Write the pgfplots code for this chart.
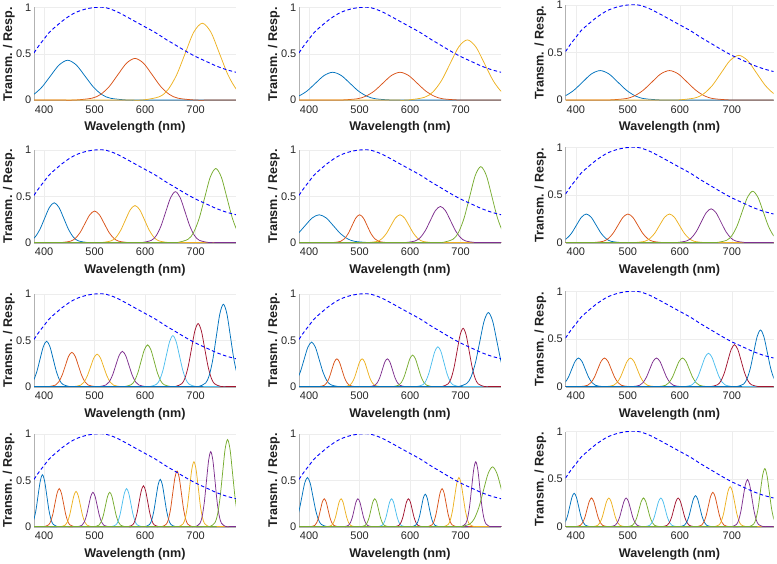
\documentclass[border=0pt]{standalone}
\usepackage{fontspec}
\setmainfont{Liberation Sans}
\usepackage{pgfplots}
\usepackage{pgfplotstable}
\pgfplotsset{compat=1.18}
\definecolor{c1}{rgb}{0,0.447,0.741}
\definecolor{c2}{rgb}{0.850,0.325,0.098}
\definecolor{c3}{rgb}{0.929,0.694,0.125}
\definecolor{c4}{rgb}{0.494,0.184,0.556}
\definecolor{c5}{rgb}{0.466,0.674,0.188}
\definecolor{c6}{rgb}{0.301,0.745,0.933}
\definecolor{c7}{rgb}{0.635,0.078,0.184}
\pgfplotstableread{
x y
380 0.51
390 0.59
400 0.66
410 0.73
420 0.78
440 0.87
460 0.94
480 0.98
500 1.00
520 1.00
540 0.965
560 0.91
580 0.85
600 0.79
620 0.73
640 0.66
660 0.595
680 0.53
700 0.47
720 0.42
740 0.37
760 0.33
780 0.30
}\qetable
\pgfplotsset{
 panel/.style={
  scale only axis, width=202pt, height=93pt, anchor=south west,
  xmin=380, xmax=780, ymin=-0.005, ymax=1,
  xtick={400,500,600,700}, xticklabels={400,500,600,700},
  ytick={0,0.5,1}, yticklabels={0,0.5,1},
  grid=major, major grid style={draw=black!7, line width=0.4pt},
  axis lines*=left, axis line style={-, draw=black!30, line width=0.5pt},
  tick style={draw=none},
  tick label style={font=\fontsize{11}{12}\selectfont, text=black!85},
  xticklabel style={anchor=north, inner sep=0pt, yshift=-5pt},
  yticklabel style={anchor=east, inner sep=0pt, xshift=-2.5pt},
  xlabel={Wavelength (nm)}, ylabel={Transm. / Resp.},
  label style={font=\fontsize{12.6}{14}\selectfont\bfseries, text=black!88},
  xlabel style={at={([yshift=-30.5pt]axis description cs:0.5,0)}, anchor=base},
  ylabel style={at={([xshift=-22pt]axis description cs:0,0.5)}, anchor=base},
  every axis plot/.append style={line width=0.75pt, smooth},
 },
 col3/.style={width=208pt, height=95.5pt},
 qe/.style={blue, dash pattern=on 3.5pt off 2.5pt, line width=0.9pt},
}
\begin{document}
\begin{tikzpicture}
%% ROW 1
\begin{axis}[panel, at={(34pt,462.5pt)}]
\addplot[c1] coordinates {(293.7,0)(327.7,0)(361.7,.019)(378.7,.058)(395.7,.140)(412.7,.261)(429.7,.379)(446.7,.43)(463.7,.379)(480.7,.261)(497.7,.140)(514.7,.058)(531.7,.019)(565.7,0)(599.7,0)(780,0)};
\addplot[c2] coordinates {(380,0)(427,0)(461,0)(495,.020)(512,.061)(529,.146)(546,.273)(563,.397)(580,.45)(597,.397)(614,.273)(631,.146)(648,.061)(665,.020)(699,0)(733,0)(780,0)};
\addplot[c3] coordinates {(380,0)(560.3,0)(594.3,0)(628.3,.036)(645.3,.112)(662.3,.270)(679.3,.503)(696.3,.733)(713.3,.83)(730.3,.733)(747.3,.503)(764.3,.270)(781.3,.112)(798.3,.036)(832.3,0)(866.3,0)};
\addplot[qe] table {\qetable};
\end{axis}
\begin{axis}[panel, at={(299pt,462.5pt)}]
\addplot[c1] coordinates {(293.7,0)(327.7,0)(361.7,.013)(378.7,.041)(395.7,.097)(412.7,.182)(429.7,.265)(446.7,.30)(463.7,.265)(480.7,.182)(497.7,.097)(514.7,.041)(531.7,.013)(565.7,0)(599.7,0)(780,0)};
\addplot[c2] coordinates {(380,0)(427,0)(461,0)(495,.013)(512,.041)(529,.097)(546,.182)(563,.265)(580,.30)(597,.265)(614,.182)(631,.097)(648,.041)(665,.013)(699,0)(733,0)(780,0)};
\addplot[c3] coordinates {(380,0)(560.3,0)(594.3,0)(628.3,.029)(645.3,.088)(662.3,.211)(679.3,.394)(696.3,.574)(713.3,.65)(730.3,.574)(747.3,.394)(764.3,.211)(781.3,.088)(798.3,.029)(832.3,0)(866.3,0)};
\addplot[qe] table {\qetable};
\end{axis}
\begin{axis}[panel, col3, at={(565.5pt,462.5pt)}]
\addplot[c1] coordinates {(293.7,0)(327.7,0)(361.7,.014)(378.7,.042)(395.7,.101)(412.7,.188)(429.7,.274)(446.7,.31)(463.7,.274)(480.7,.188)(497.7,.101)(514.7,.042)(531.7,.014)(565.7,0)(599.7,0)(780,0)};
\addplot[c2] coordinates {(380,0)(427,0)(461,0)(495,.014)(512,.042)(529,.101)(546,.188)(563,.274)(580,.31)(597,.274)(614,.188)(631,.101)(648,.042)(665,.014)(699,0)(733,0)(780,0)};
\addplot[c3] coordinates {(380,0)(560.3,0)(594.3,0)(628.3,.021)(645.3,.064)(662.3,.153)(679.3,.285)(696.3,.415)(713.3,.47)(730.3,.415)(747.3,.285)(764.3,.153)(781.3,.064)(798.3,.021)(832.3,0)(866.3,0)};
\addplot[qe] table {\qetable};
\end{axis}
%% ROW 2
\begin{axis}[panel, at={(34pt,320pt)}]
\addplot[c1] coordinates {(334.5,0)(353.5,0)(372.5,.019)(382,.058)(391.5,.140)(401,.261)(410.5,.379)(420,.43)(429.5,.379)(439,.261)(448.5,.140)(458,.058)(467.5,.019)(486.5,0)(505.5,0)(780,0)};
\addplot[c2] coordinates {(380,0)(414.5,0)(433.5,0)(452.5,.015)(462,.046)(471.5,.110)(481,.206)(490.5,.300)(500,.34)(509.5,.300)(519,.206)(528.5,.110)(538,.046)(547.5,.015)(566.5,0)(585.5,0)(780,0)};
\addplot[c3] coordinates {(380,0)(494.5,0)(513.5,0)(532.5,.018)(542,.054)(551.5,.130)(561,.243)(570.5,.353)(580,.40)(589.5,.353)(599,.243)(608.5,.130)(618,.054)(627.5,.018)(646.5,0)(665.5,0)(780,0)};
\addplot[c4] coordinates {(380,0)(574.5,0)(593.5,0)(612.5,.024)(622,.074)(631.5,.179)(641,.334)(650.5,.485)(660,.55)(669.5,.485)(679,.334)(688.5,.179)(698,.074)(707.5,.024)(726.5,0)(745.5,0)(780,0)};
\addplot[c5] coordinates {(380,0)(641,0)(663,0)(685,.035)(696,.108)(707,.260)(718,.485)(729,.706)(740,.80)(751,.706)(762,.485)(773,.260)(784,.108)(795,.035)(817,0)(839,0)};
\addplot[qe] table {\qetable};
\end{axis}
\begin{axis}[panel, at={(299pt,320pt)}]
\addplot[c1] coordinates {(294,0)(322,0)(350,.013)(364,.041)(378,.097)(392,.182)(406,.265)(420,.30)(434,.265)(448,.182)(462,.097)(476,.041)(490,.013)(518,0)(546,0)(780,0)};
\addplot[c2] coordinates {(380,0)(432.5,0)(447.5,0)(462.5,.013)(470,.041)(477.5,.097)(485,.182)(492.5,.265)(500,.30)(507.5,.265)(515,.182)(522.5,.097)(530,.041)(537.5,.013)(552.5,0)(567.5,0)(780,0)};
\addplot[c3] coordinates {(380,0)(499,0)(517,0)(535,.013)(544,.041)(553,.097)(562,.182)(571,.265)(580,.30)(589,.265)(598,.182)(607,.097)(616,.041)(625,.013)(643,0)(661,0)(780,0)};
\addplot[c4] coordinates {(380,0)(570,0)(590,0)(610,.017)(620,.053)(630,.127)(640,.237)(650,.344)(660,.39)(670,.344)(680,.237)(690,.127)(700,.053)(710,.017)(730,0)(750,0)(780,0)};
\addplot[c5] coordinates {(380,0)(641,0)(663,0)(685,.036)(696,.111)(707,.266)(718,.497)(729,.724)(740,.82)(751,.724)(762,.497)(773,.266)(784,.111)(795,.036)(817,0)(839,0)};
\addplot[qe] table {\qetable};
\end{axis}
\begin{axis}[panel, col3, at={(565.5pt,320pt)}]
\addplot[c1] coordinates {(334.5,0)(353.5,0)(372.5,.013)(382,.041)(391.5,.097)(401,.182)(410.5,.265)(420,.30)(429.5,.265)(439,.182)(448.5,.097)(458,.041)(467.5,.013)(486.5,0)(505.5,0)(780,0)};
\addplot[c2] coordinates {(380,0)(414.5,0)(433.5,0)(452.5,.013)(462,.041)(471.5,.097)(481,.182)(490.5,.265)(500,.30)(509.5,.265)(519,.182)(528.5,.097)(538,.041)(547.5,.013)(566.5,0)(585.5,0)(780,0)};
\addplot[c3] coordinates {(380,0)(494.5,0)(513.5,0)(532.5,.013)(542,.041)(551.5,.097)(561,.182)(570.5,.265)(580,.30)(589.5,.265)(599,.182)(608.5,.097)(618,.041)(627.5,.013)(646.5,0)(665.5,0)(780,0)};
\addplot[c4] coordinates {(380,0)(574.5,0)(593.5,0)(612.5,.016)(622,.048)(631.5,.115)(641,.215)(650.5,.313)(660,.355)(669.5,.313)(679,.215)(688.5,.115)(698,.048)(707.5,.016)(726.5,0)(745.5,0)(780,0)};
\addplot[c5] coordinates {(380,0)(650,0)(670,0)(690,.024)(700,.073)(710,.175)(720,.328)(730,.477)(740,.54)(750,.477)(760,.328)(770,.175)(780,.073)(790,.024)(810,0)(830,0)};
\addplot[qe] table {\qetable};
\end{axis}
%% ROW 3
\begin{axis}[panel, at={(34pt,176pt)}]
\addplot[c1] coordinates {(346.5,0)(359.5,0)(372.5,.022)(379,.066)(385.5,.159)(392,.297)(398.5,.432)(405,.49)(411.5,.432)(418,.297)(424.5,.159)(431,.066)(437.5,.022)(450.5,0)(463.5,0)(780,0)};
\addplot[c2] coordinates {(380,0)(396.5,0)(409.5,0)(422.5,.016)(429,.050)(435.5,.120)(442,.224)(448.5,.327)(455,.37)(461.5,.327)(468,.224)(474.5,.120)(481,.050)(487.5,.016)(500.5,0)(513.5,0)(780,0)};
\addplot[c3] coordinates {(380,0)(446.5,0)(459.5,0)(472.5,.015)(479,.047)(485.5,.114)(492,.212)(498.5,.309)(505,.35)(511.5,.309)(518,.212)(524.5,.114)(531,.047)(537.5,.015)(550.5,0)(563.5,0)(780,0)};
\addplot[c4] coordinates {(380,0)(496.5,0)(509.5,0)(522.5,.017)(529,.051)(535.5,.123)(542,.230)(548.5,.335)(555,.38)(561.5,.335)(568,.230)(574.5,.123)(581,.051)(587.5,.017)(600.5,0)(613.5,0)(780,0)};
\addplot[c5] coordinates {(380,0)(546.5,0)(559.5,0)(572.5,.020)(579,.061)(585.5,.146)(592,.273)(598.5,.397)(605,.45)(611.5,.397)(618,.273)(624.5,.146)(631,.061)(637.5,.020)(650.5,0)(663.5,0)(780,0)};
\addplot[c6] coordinates {(380,0)(596.5,0)(609.5,0)(622.5,.024)(629,.074)(635.5,.179)(642,.334)(648.5,.485)(655,.55)(661.5,.485)(668,.334)(674.5,.179)(681,.074)(687.5,.024)(700.5,0)(713.5,0)(780,0)};
\addplot[c7] coordinates {(380,0)(646.5,0)(659.5,0)(672.5,.030)(679,.092)(685.5,.221)(692,.412)(698.5,.600)(705,.68)(711.5,.600)(718,.412)(724.5,.221)(731,.092)(737.5,.030)(750.5,0)(763.5,0)(780,0)};
\addplot[c1] coordinates {(380,0)(692,0)(706,0)(720,.039)(727,.120)(734,.289)(741,.540)(748,.785)(755,.89)(762,.785)(769,.540)(776,.289)(783,.120)(790,.039)(804,0)(818,0)};
\addplot[qe] table {\qetable};
\end{axis}
\begin{axis}[panel, at={(299pt,176pt)}]
\addplot[c1] coordinates {(337.5,0)(352.5,0)(367.5,.021)(375,.065)(382.5,.156)(390,.291)(397.5,.424)(405,.48)(412.5,.424)(420,.291)(427.5,.156)(435,.065)(442.5,.021)(457.5,0)(472.5,0)(780,0)};
\addplot[c2] coordinates {(380,0)(410,0)(420,0)(430,.013)(435,.041)(440,.097)(445,.182)(450,.265)(455,.30)(460,.265)(465,.182)(470,.097)(475,.041)(480,.013)(490,0)(500,0)(780,0)};
\addplot[c3] coordinates {(380,0)(460,0)(470,0)(480,.013)(485,.041)(490,.097)(495,.182)(500,.265)(505,.30)(510,.265)(515,.182)(520,.097)(525,.041)(530,.013)(540,0)(550,0)(780,0)};
\addplot[c4] coordinates {(380,0)(510,0)(520,0)(530,.013)(535,.041)(540,.097)(545,.182)(550,.265)(555,.30)(560,.265)(565,.182)(570,.097)(575,.041)(580,.013)(590,0)(600,0)(780,0)};
\addplot[c5] coordinates {(380,0)(555.5,0)(566.5,0)(577.5,.015)(583,.046)(588.5,.110)(594,.206)(599.5,.300)(605,.34)(610.5,.300)(616,.206)(621.5,.110)(627,.046)(632.5,.015)(643.5,0)(654.5,0)(780,0)};
\addplot[c6] coordinates {(380,0)(601,0)(613,0)(625,.019)(631,.058)(637,.140)(643,.261)(649,.379)(655,.43)(661,.379)(667,.261)(673,.140)(679,.058)(685,.019)(697,0)(709,0)(780,0)};
\addplot[c7] coordinates {(380,0)(651,0)(663,0)(675,.028)(681,.085)(687,.205)(693,.382)(699,.556)(705,.63)(711,.556)(717,.382)(723,.205)(729,.085)(735,.028)(747,0)(759,0)(780,0)};
\addplot[c1] coordinates {(380,0)(678.5,0)(695.5,0)(712.5,.035)(721,.108)(729.5,.260)(738,.485)(746.5,.706)(755,.80)(763.5,.706)(772,.485)(780.5,.260)(789,.108)(797.5,.035)(814.5,0)(831.5,0)};
\addplot[qe] table {\qetable};
\end{axis}
\begin{axis}[panel, col3, at={(565.5pt,176pt)}]
\addplot[c1] coordinates {(346.5,0)(359.5,0)(372.5,.013)(379,.041)(385.5,.097)(392,.182)(398.5,.265)(405,.30)(411.5,.265)(418,.182)(424.5,.097)(431,.041)(437.5,.013)(450.5,0)(463.5,0)(780,0)};
\addplot[c2] coordinates {(380,0)(396.5,0)(409.5,0)(422.5,.013)(429,.041)(435.5,.097)(442,.182)(448.5,.265)(455,.30)(461.5,.265)(468,.182)(474.5,.097)(481,.041)(487.5,.013)(500.5,0)(513.5,0)(780,0)};
\addplot[c3] coordinates {(380,0)(446.5,0)(459.5,0)(472.5,.013)(479,.041)(485.5,.097)(492,.182)(498.5,.265)(505,.30)(511.5,.265)(518,.182)(524.5,.097)(531,.041)(537.5,.013)(550.5,0)(563.5,0)(780,0)};
\addplot[c4] coordinates {(380,0)(496.5,0)(509.5,0)(522.5,.013)(529,.041)(535.5,.097)(542,.182)(548.5,.265)(555,.30)(561.5,.265)(568,.182)(574.5,.097)(581,.041)(587.5,.013)(600.5,0)(613.5,0)(780,0)};
\addplot[c5] coordinates {(380,0)(546.5,0)(559.5,0)(572.5,.013)(579,.041)(585.5,.097)(592,.182)(598.5,.265)(605,.30)(611.5,.265)(618,.182)(624.5,.097)(631,.041)(637.5,.013)(650.5,0)(663.5,0)(780,0)};
\addplot[c6] coordinates {(380,0)(596.5,0)(609.5,0)(622.5,.015)(629,.047)(635.5,.114)(642,.212)(648.5,.309)(655,.35)(661.5,.309)(668,.212)(674.5,.114)(681,.047)(687.5,.015)(700.5,0)(713.5,0)(780,0)};
\addplot[c7] coordinates {(380,0)(646.5,0)(659.5,0)(672.5,.019)(679,.060)(685.5,.143)(692,.267)(698.5,.388)(705,.44)(711.5,.388)(718,.267)(724.5,.143)(731,.060)(737.5,.019)(750.5,0)(763.5,0)(780,0)};
\addplot[c1] coordinates {(380,0)(696.5,0)(709.5,0)(722.5,.026)(729,.081)(735.5,.193)(742,.361)(748.5,.525)(755,.595)(761.5,.525)(768,.361)(774.5,.193)(781,.081)(787.5,.026)(800.5,0)(813.5,0)};
\addplot[qe] table {\qetable};
\end{axis}
%% ROW 4
\begin{axis}[panel, at={(34pt,36pt)}]
\addplot[c1] coordinates {(358.5,0)(367,0)(375.5,.025)(379.7,.076)(384,.182)(388.2,.340)(392.5,.494)(396.7,.56)(400.9,.494)(405.2,.340)(409.4,.182)(413.7,.076)(417.9,.025)(426.4,0)(434.9,0)(780,0)};
\addplot[c2] coordinates {(380,0)(391.8,0)(400.3,0)(408.8,.018)(413,.055)(417.3,.133)(421.5,.249)(425.8,.362)(430,.41)(434.2,.362)(438.5,.249)(442.7,.133)(447,.055)(451.2,.018)(459.7,0)(468.2,0)(780,0)};
\addplot[c3] coordinates {(380,0)(425.1,0)(433.6,0)(442.1,.017)(446.3,.051)(450.6,.123)(454.8,.230)(459.1,.335)(463.3,.38)(467.5,.335)(471.8,.230)(476,.123)(480.3,.051)(484.5,.017)(493,0)(501.5,0)(780,0)};
\addplot[c4] coordinates {(380,0)(458.5,0)(467,0)(475.5,.016)(479.7,.050)(484,.120)(488.2,.224)(492.5,.327)(496.7,.37)(500.9,.327)(505.2,.224)(509.4,.120)(513.7,.050)(517.9,.016)(526.4,0)(534.9,0)(780,0)};
\addplot[c5] coordinates {(380,0)(491.8,0)(500.3,0)(508.8,.016)(513,.050)(517.3,.120)(521.5,.224)(525.8,.327)(530,.37)(534.2,.327)(538.5,.224)(542.7,.120)(547,.050)(551.2,.016)(559.7,0)(568.2,0)(780,0)};
\addplot[c6] coordinates {(380,0)(525.1,0)(533.6,0)(542.1,.018)(546.3,.055)(550.6,.133)(554.8,.249)(559.1,.362)(563.3,.41)(567.5,.362)(571.8,.249)(576,.133)(580.3,.055)(584.5,.018)(593,0)(601.5,0)(780,0)};
\addplot[c7] coordinates {(380,0)(558.5,0)(567,0)(575.5,.019)(579.7,.060)(584,.143)(588.2,.267)(592.5,.388)(596.7,.44)(600.9,.388)(605.2,.267)(609.4,.143)(613.7,.060)(617.9,.019)(626.4,0)(634.9,0)(780,0)};
\addplot[c1] coordinates {(380,0)(591.8,0)(600.3,0)(608.8,.022)(613,.069)(617.3,.166)(621.5,.309)(625.8,.450)(630,.51)(634.2,.450)(638.5,.309)(642.7,.166)(647,.069)(651.2,.022)(659.7,0)(668.2,0)(780,0)};
\addplot[c2] coordinates {(380,0)(625.1,0)(633.6,0)(642.1,.026)(646.3,.081)(650.6,.195)(654.8,.364)(659.1,.530)(663.3,.60)(667.5,.530)(671.8,.364)(676,.195)(680.3,.081)(684.5,.026)(693,0)(701.5,0)(780,0)};
\addplot[c3] coordinates {(380,0)(658.5,0)(667,0)(675.5,.031)(679.7,.095)(684,.227)(688.2,.425)(692.5,.618)(696.7,.70)(700.9,.618)(705.2,.425)(709.4,.227)(713.7,.095)(717.9,.031)(726.4,0)(734.9,0)(780,0)};
\addplot[c4] coordinates {(380,0)(691.8,0)(700.3,0)(708.8,.036)(713,.110)(717.3,.263)(721.5,.491)(725.8,.715)(730,.81)(734.2,.715)(738.5,.491)(742.7,.263)(747,.110)(751.2,.036)(759.7,0)(768.2,0)(780,0)};
\addplot[c5] coordinates {(380,0)(718.3,0)(728.3,0)(738.3,.041)(743.3,.127)(748.3,.305)(753.3,.570)(758.3,.830)(763.3,.94)(768.3,.830)(773.3,.570)(778.3,.305)(783.3,.127)(788.3,.041)(798.3,0)(808.3,0)};
\addplot[qe] table {\qetable};
\end{axis}
\begin{axis}[panel, at={(299pt,36pt)}]
\addplot[c1] coordinates {(347.2,0)(358.2,0)(369.2,.023)(374.7,.072)(380.2,.172)(385.7,.321)(391.2,.468)(396.7,.53)(402.2,.468)(407.7,.321)(413.2,.172)(418.7,.072)(424.2,.023)(435.2,0)(446.2,0)(780,0)};
\addplot[c2] coordinates {(380,0)(396.2,0)(403.7,0)(411.3,.013)(415,.041)(418.8,.097)(422.5,.182)(426.2,.265)(430,.30)(433.8,.265)(437.5,.182)(441.3,.097)(445,.041)(448.8,.013)(456.3,0)(463.8,0)(780,0)};
\addplot[c3] coordinates {(380,0)(429.5,0)(437,0)(444.6,.013)(448.3,.041)(452.1,.097)(455.8,.182)(459.5,.265)(463.3,.30)(467.1,.265)(470.8,.182)(474.6,.097)(478.3,.041)(482.1,.013)(489.6,0)(497.1,0)(780,0)};
\addplot[c4] coordinates {(380,0)(462.9,0)(470.4,0)(478,.013)(481.7,.041)(485.5,.097)(489.2,.182)(492.9,.265)(496.7,.30)(500.5,.265)(504.2,.182)(508,.097)(511.7,.041)(515.5,.013)(523,0)(530.5,0)(780,0)};
\addplot[c5] coordinates {(380,0)(496.2,0)(503.7,0)(511.3,.013)(515,.041)(518.8,.097)(522.5,.182)(526.2,.265)(530,.30)(533.8,.265)(537.5,.182)(541.3,.097)(545,.041)(548.8,.013)(556.3,0)(563.8,0)(780,0)};
\addplot[c6] coordinates {(380,0)(529.5,0)(537,0)(544.6,.013)(548.3,.041)(552.1,.097)(555.8,.182)(559.5,.265)(563.3,.30)(567.1,.265)(570.8,.182)(574.6,.097)(578.3,.041)(582.1,.013)(589.6,0)(597.1,0)(780,0)};
\addplot[c7] coordinates {(380,0)(562.9,0)(570.4,0)(578,.013)(581.7,.041)(585.5,.097)(589.2,.182)(592.9,.265)(596.7,.30)(600.5,.265)(604.2,.182)(608,.097)(611.7,.041)(615.5,.013)(623,0)(630.5,0)(780,0)};
\addplot[c1] coordinates {(380,0)(596.2,0)(603.7,0)(611.3,.015)(615,.047)(618.8,.114)(622.5,.212)(626.2,.309)(630,.35)(633.8,.309)(637.5,.212)(641.3,.114)(645,.047)(648.8,.015)(656.3,0)(663.8,0)(780,0)};
\addplot[c2] coordinates {(380,0)(627.3,0)(635.3,0)(643.3,.018)(647.3,.055)(651.3,.133)(655.3,.249)(659.3,.362)(663.3,.41)(667.3,.362)(671.3,.249)(675.3,.133)(679.3,.055)(683.3,.018)(691.3,0)(699.3,0)(780,0)};
\addplot[c3] coordinates {(380,0)(658.5,0)(667,0)(675.5,.023)(679.7,.072)(684,.172)(688.2,.321)(692.5,.468)(696.7,.53)(700.9,.468)(705.2,.321)(709.4,.172)(713.7,.072)(717.9,.023)(726.4,0)(734.9,0)(780,0)};
\addplot[c4] coordinates {(380,0)(694,0)(702,0)(710,.031)(714,.095)(718,.227)(722,.425)(726,.618)(730,.70)(734,.618)(738,.425)(742,.227)(746,.095)(750,.031)(758,0)(766,0)(780,0)};
\addplot[c5] coordinates {(380,0)(682.3,0)(700.3,0)(718.3,.028)(727.3,.087)(736.3,.209)(745.3,.391)(754.3,.569)(763.3,.645)(772.3,.569)(781.3,.391)(790.3,.209)(799.3,.087)(808.3,.028)(826.3,0)(844.3,0)};
\addplot[qe] table {\qetable};
\end{axis}
\begin{axis}[panel, col3, at={(565.5pt,36pt)}]
\addplot[c1] coordinates {(358.5,0)(367,0)(375.5,.015)(379.7,.047)(384,.114)(388.2,.212)(392.5,.309)(396.7,.35)(400.9,.309)(405.2,.212)(409.4,.114)(413.7,.047)(417.9,.015)(426.4,0)(434.9,0)(780,0)};
\addplot[c2] coordinates {(380,0)(391.8,0)(400.3,0)(408.8,.013)(413,.041)(417.3,.097)(421.5,.182)(425.8,.265)(430,.30)(434.2,.265)(438.5,.182)(442.7,.097)(447,.041)(451.2,.013)(459.7,0)(468.2,0)(780,0)};
\addplot[c3] coordinates {(380,0)(425.1,0)(433.6,0)(442.1,.013)(446.3,.041)(450.6,.097)(454.8,.182)(459.1,.265)(463.3,.30)(467.5,.265)(471.8,.182)(476,.097)(480.3,.041)(484.5,.013)(493,0)(501.5,0)(780,0)};
\addplot[c4] coordinates {(380,0)(458.5,0)(467,0)(475.5,.013)(479.7,.041)(484,.097)(488.2,.182)(492.5,.265)(496.7,.30)(500.9,.265)(505.2,.182)(509.4,.097)(513.7,.041)(517.9,.013)(526.4,0)(534.9,0)(780,0)};
\addplot[c5] coordinates {(380,0)(491.8,0)(500.3,0)(508.8,.013)(513,.041)(517.3,.097)(521.5,.182)(525.8,.265)(530,.30)(534.2,.265)(538.5,.182)(542.7,.097)(547,.041)(551.2,.013)(559.7,0)(568.2,0)(780,0)};
\addplot[c6] coordinates {(380,0)(525.1,0)(533.6,0)(542.1,.013)(546.3,.041)(550.6,.097)(554.8,.182)(559.1,.265)(563.3,.30)(567.5,.265)(571.8,.182)(576,.097)(580.3,.041)(584.5,.013)(593,0)(601.5,0)(780,0)};
\addplot[c7] coordinates {(380,0)(558.5,0)(567,0)(575.5,.013)(579.7,.041)(584,.097)(588.2,.182)(592.5,.265)(596.7,.30)(600.9,.265)(605.2,.182)(609.4,.097)(613.7,.041)(617.9,.013)(626.4,0)(634.9,0)(780,0)};
\addplot[c1] coordinates {(380,0)(591.8,0)(600.3,0)(608.8,.014)(613,.044)(617.3,.106)(621.5,.197)(625.8,.287)(630,.325)(634.2,.287)(638.5,.197)(642.7,.106)(647,.044)(651.2,.014)(659.7,0)(668.2,0)(780,0)};
\addplot[c2] coordinates {(380,0)(625.1,0)(633.6,0)(642.1,.016)(646.3,.049)(650.6,.117)(654.8,.218)(659.1,.318)(663.3,.36)(667.5,.318)(671.8,.218)(676,.117)(680.3,.049)(684.5,.016)(693,0)(701.5,0)(780,0)};
\addplot[c3] coordinates {(380,0)(658.5,0)(667,0)(675.5,.018)(679.7,.057)(684,.136)(688.2,.255)(692.5,.371)(696.7,.42)(700.9,.371)(705.2,.255)(709.4,.136)(713.7,.057)(717.9,.018)(726.4,0)(734.9,0)(780,0)};
\addplot[c4] coordinates {(380,0)(691.8,0)(700.3,0)(708.8,.022)(713,.067)(717.3,.161)(721.5,.300)(725.8,.437)(730,.495)(734.2,.437)(738.5,.300)(742.7,.161)(747,.067)(751.2,.022)(759.7,0)(768.2,0)(780,0)};
\addplot[c5] coordinates {(380,0)(725.1,0)(733.6,0)(742.1,.027)(746.3,.083)(750.6,.198)(754.8,.370)(759.1,.538)(763.3,.61)(767.5,.538)(771.8,.370)(776,.198)(780.3,.083)(784.5,.027)(793,0)(801.5,0)};
\addplot[qe] table {\qetable};
\end{axis}
\pgfresetboundingbox
\path[use as bounding box] (0,0) rectangle (777pt,563pt);
\end{tikzpicture}
\end{document}
